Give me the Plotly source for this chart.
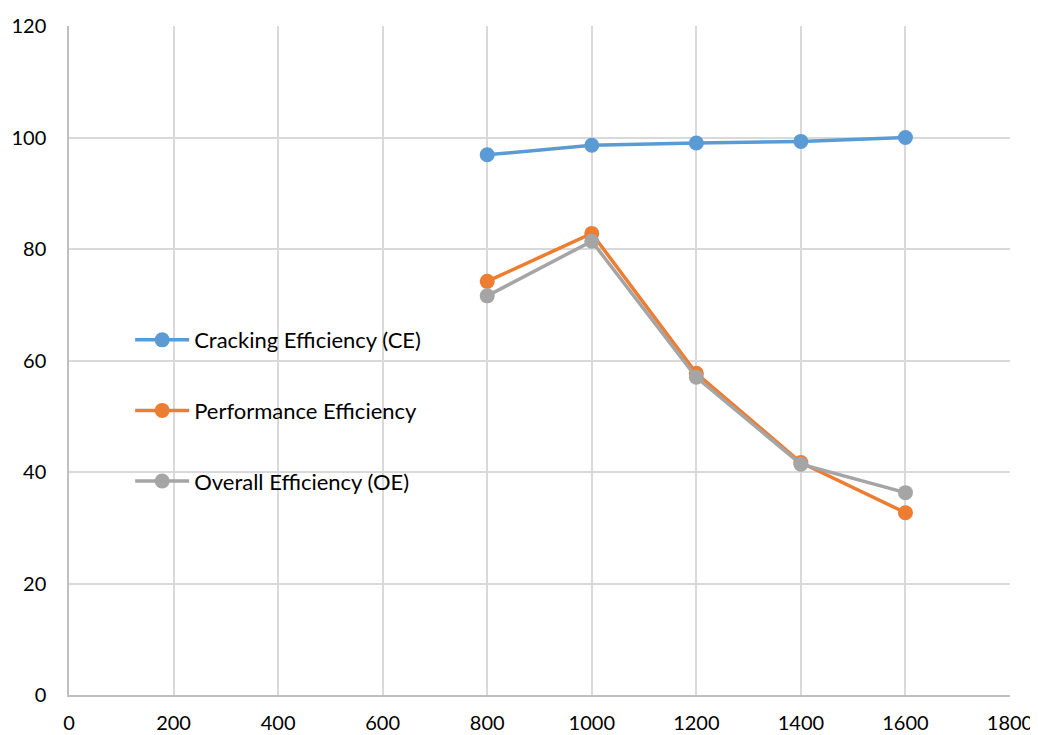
import plotly.graph_objects as go

x_vals = [800, 1000, 1200, 1400, 1600]
ce_vals = [96.9, 98.6, 99.0, 99.3, 100.0]
pe_vals = [74.2, 82.8, 57.7, 41.7, 32.7]
oe_vals = [71.6, 81.4, 57.0, 41.4, 36.3]
names = ["Cracking Efficiency (CE)", "Performance Efficiency", "Overall Efficiency (OE)"]
colors = ["#5B9BD5", "#ED7D31", "#A5A5A5"]

fig = go.Figure()
for i, (vals, name, col) in enumerate(zip([ce_vals, pe_vals, oe_vals], names, colors)):
    fig.add_trace(go.Scatter(
        x=x_vals, y=vals, name=name, mode="lines+markers",
        line=dict(color=col, width=3.5),
        marker=dict(color=col, size=15),
        legendgroup=f"g{i}",
    ))

font_family = "Lato, Carlito, Calibri, sans-serif"
fig.update_layout(
    width=1030, height=727,
    margin=dict(l=61, r=28, t=18, b=40),
    paper_bgcolor="white", plot_bgcolor="white",
    font=dict(family=font_family, size=22, color="#000000"),
    showlegend=True,
    legend=dict(
        x=0.065, y=0.562, xanchor="left", yanchor="top",
        bgcolor="rgba(0,0,0,0)", tracegroupgap=39, itemwidth=54,
        font=dict(family=font_family, size=22, color="#000000"),
    ),
    xaxis=dict(
        range=[0, 1800], tick0=0, dtick=200, showgrid=True,
        gridcolor="#D9D9D9", gridwidth=1.5,
        showline=True, linecolor="#BFBFBF", linewidth=1.5,
        zeroline=False, ticks="", ticklabelstandoff=9, automargin=False,
        tickfont=dict(size=20),
    ),
    yaxis=dict(
        range=[0, 120], tick0=0, dtick=20, showgrid=True,
        gridcolor="#D9D9D9", gridwidth=1.5,
        showline=True, linecolor="#BFBFBF", linewidth=1.5,
        zeroline=False, ticks="", ticklabelstandoff=17, automargin=False,
        tickfont=dict(size=20),
    ),
)

fig.write_html("out.html")
